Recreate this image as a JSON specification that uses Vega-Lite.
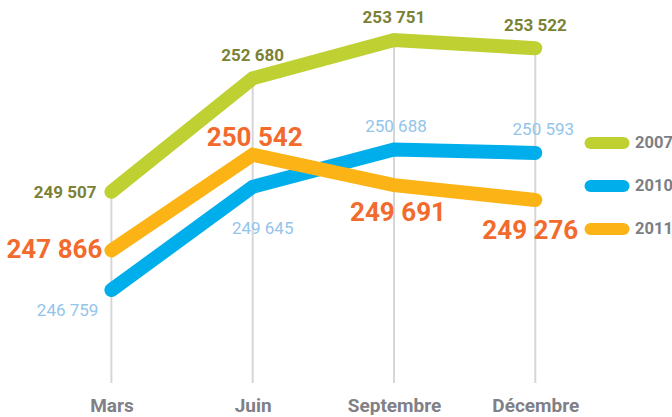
{
  "$schema": "https://vega.github.io/schema/vega-lite/v6.json",
  "width": 672,
  "height": 383,
  "padding": 0,
  "background": "#ffffff",
  "config": {
    "view": {"stroke": null},
    "font": "Roboto, sans-serif"
  },
  "data": {
    "values": [
      {"month": "Mars", "series": "2007", "value": 249507, "label": "249 507"},
      {"month": "Juin", "series": "2007", "value": 252680, "label": "252 680"},
      {"month": "Septembre", "series": "2007", "value": 253751, "label": "253 751"},
      {"month": "Décembre", "series": "2007", "value": 253522, "label": "253 522"},
      {"month": "Mars", "series": "2010", "value": 246759, "label": "246 759"},
      {"month": "Juin", "series": "2010", "value": 249645, "label": "249 645"},
      {"month": "Septembre", "series": "2010", "value": 250688, "label": "250 688"},
      {"month": "Décembre", "series": "2010", "value": 250593, "label": "250 593"},
      {"month": "Mars", "series": "2011", "value": 247866, "label": "247 866"},
      {"month": "Juin", "series": "2011", "value": 250542, "label": "250 542"},
      {"month": "Septembre", "series": "2011", "value": 249691, "label": "249 691"},
      {"month": "Décembre", "series": "2011", "value": 249276, "label": "249 276"}
    ]
  },
  "encoding": {
    "x": {
      "field": "month", "type": "ordinal",
      "sort": ["Mars", "Juin", "Septembre", "Décembre"],
      "scale": {"type": "point", "padding": 0.878, "align": 0.449},
      "axis": {
        "title": null, "domain": false, "ticks": false, "grid": false,
        "labelAngle": 0, "labelFontSize": 19, "labelFontWeight": "bold",
        "labelColor": "#808086", "labelPadding": 13, "labelFont": "Roboto, sans-serif"
      }
    },
    "y": {
      "field": "value", "type": "quantitative",
      "scale": {"domain": [244158, 254870], "nice": false, "zero": false},
      "axis": null
    }
  },
  "layer": [
    {
      "transform": [{"filter": "datum.series == '2007'"}],
      "mark": {"type": "rule", "color": "#d6d6d6", "strokeWidth": 2},
      "encoding": {"y2": {"datum": 244158}}
    },
    {
      "mark": {"type": "line", "strokeWidth": 14, "strokeCap": "round"},
      "encoding": {
        "color": {
          "field": "series", "type": "nominal",
          "scale": {"domain": ["2007", "2010", "2011"], "range": ["#bfd032", "#00aeeb", "#fcb316"]},
          "legend": {
            "title": null, "orient": "none", "legendX": 591, "legendY": 127, "padding": 0,
            "symbolType": "M-1.65,0H1.65", "symbolSize": 400, "symbolStrokeWidth": 12,
            "labelFontSize": 16.5, "labelFontWeight": "bold", "labelColor": "#7d7e84",
            "labelOffset": 12, "rowPadding": -5,
            "labelFont": "Roboto, sans-serif",
            "encode": {"symbols": {"update": {"strokeCap": {"value": "round"}}}}
          }
        }
      }
    },
    {
      "transform": [{"filter": "datum.series == '2007' && datum.month == 'Mars'"}],
      "mark": {"type": "text", "align": "right", "baseline": "middle", "dx": -15, "dy": 1, "fontSize": 17, "fontWeight": "bold", "color": "#7b8236"},
      "encoding": {"text": {"field": "label"}}
    },
    {
      "transform": [{"filter": "datum.series == '2007' && datum.month != 'Mars'"}],
      "mark": {"type": "text", "align": "center", "baseline": "middle", "dy": -22, "fontSize": 17, "fontWeight": "bold", "color": "#7b8236"},
      "encoding": {"text": {"field": "label"}}
    },
    {
      "transform": [{"filter": "datum.series == '2010' && datum.month == 'Mars'"}],
      "mark": {"type": "text", "align": "right", "baseline": "middle", "dx": -13, "dy": 21, "fontSize": 17, "color": "#93c4ea"},
      "encoding": {"text": {"field": "label"}}
    },
    {
      "transform": [{"filter": "datum.series == '2010' && datum.month == 'Juin'"}],
      "mark": {"type": "text", "align": "center", "baseline": "middle", "dx": 10, "dy": 42, "fontSize": 17, "color": "#93c4ea"},
      "encoding": {"text": {"field": "label"}}
    },
    {
      "transform": [{"filter": "datum.series == '2010' && datum.month == 'Septembre'"}],
      "mark": {"type": "text", "align": "center", "baseline": "middle", "dx": 2, "dy": -23, "fontSize": 17, "color": "#93c4ea"},
      "encoding": {"text": {"field": "label"}}
    },
    {
      "transform": [{"filter": "datum.series == '2010' && datum.month == 'Décembre'"}],
      "mark": {"type": "text", "align": "center", "baseline": "middle", "dx": 8, "dy": -23, "fontSize": 17, "color": "#93c4ea"},
      "encoding": {"text": {"field": "label"}}
    },
    {
      "transform": [{"filter": "datum.series == '2011' && datum.month == 'Mars'"}],
      "mark": {"type": "text", "align": "right", "baseline": "middle", "dx": -9, "dy": 0, "fontSize": 26, "fontWeight": "bold", "color": "#f26a2c"},
      "encoding": {"text": {"field": "label"}}
    },
    {
      "transform": [{"filter": "datum.series == '2011' && datum.month == 'Juin'"}],
      "mark": {"type": "text", "align": "center", "baseline": "middle", "dx": 2, "dy": -17, "fontSize": 26, "fontWeight": "bold", "color": "#f26a2c"},
      "encoding": {"text": {"field": "label"}}
    },
    {
      "transform": [{"filter": "datum.series == '2011' && datum.month == 'Septembre'"}],
      "mark": {"type": "text", "align": "center", "baseline": "middle", "dx": 4, "dy": 28, "fontSize": 26, "fontWeight": "bold", "color": "#f26a2c"},
      "encoding": {"text": {"field": "label"}}
    },
    {
      "transform": [{"filter": "datum.series == '2011' && datum.month == 'Décembre'"}],
      "mark": {"type": "text", "align": "center", "baseline": "middle", "dx": -5, "dy": 31, "fontSize": 26, "fontWeight": "bold", "color": "#f26a2c"},
      "encoding": {"text": {"field": "label"}}
    }
  ]
}
